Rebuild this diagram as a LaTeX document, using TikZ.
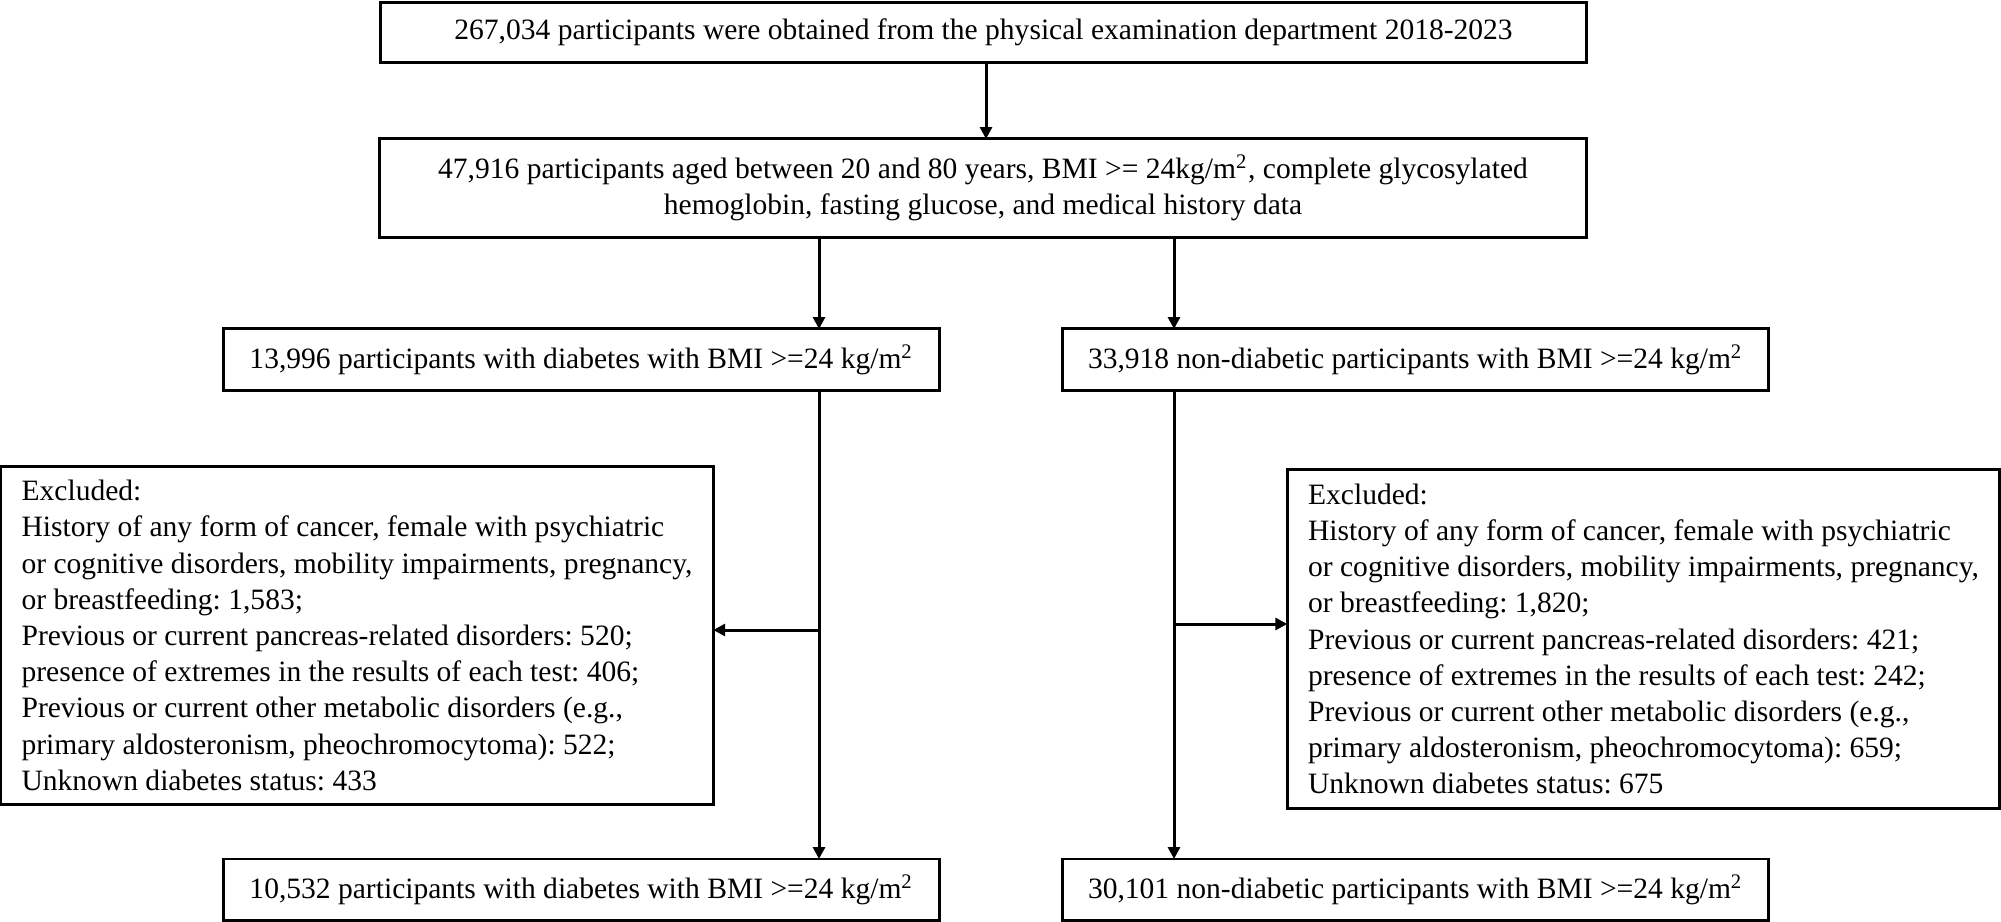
\documentclass[tikz,border=0pt]{standalone}
\usepackage{fontspec}
\setmainfont{Liberation Serif}
\usepackage{tikz}
\usetikzlibrary{arrows.meta}
\usetikzlibrary{positioning}
\frenchspacing

\begin{document}
\begin{tikzpicture}[x=0.01cm, y=-0.01cm,
  font=\fontsize{8.4pt}{10.3pt}\selectfont,
  stagebox/.style={draw, line width=0.85pt, inner sep=0pt, outer sep=0pt, align=center},
  exclbox/.style={draw, line width=0.85pt, inner sep=0pt, outer sep=0pt,
    align=left, minimum width=7.12cm, minimum height=3.38cm},
  flow/.style={line width=0.85pt, -{Triangle[length=3.4pt, width=3.4pt]}}]

  \useasboundingbox (0,0) rectangle (2001,921);

  % Nodes
  \node[stagebox, minimum width=12.05cm, minimum height=0.59cm] (all) at (983.5,32.5)
    {267,034 participants were obtained from the physical examination department 2018-2023};
  \node[stagebox, minimum width=12.06cm, minimum height=0.98cm] (adult) at (983,188)
    {47,916 participants aged between 20 and 80 years, BMI >= 24kg/m\textsuperscript{2}, complete glycosylated\\
     hemoglobin, fasting glucose, and medical history data};
  \node[stagebox, minimum width=7.15cm, minimum height=0.61cm] (diab) at (581.5,359.5)
    {13,996 participants with diabetes with BMI >=24 kg/m\textsuperscript{2}};
  \node[stagebox, minimum width=7.05cm, minimum height=0.61cm] (nondiab) at (1415.5,359.5)
    {33,918 non-diabetic participants with BMI >=24 kg/m\textsuperscript{2}};
  \node[exclbox] (exdiab) at (357,635.5)
    {Excluded:\\
     History of any form of cancer, female with psychiatric\\
     or cognitive disorders, mobility impairments, pregnancy,\\
     or breastfeeding: 1,583;\\
     Previous or current pancreas-related disorders: 520;\\
     presence of extremes in the results of each test: 406;\\
     Previous or current other metabolic disorders (e.g.,\\
     primary aldosteronism, pheochromocytoma): 522;\\
     Unknown diabetes status: 433};
  \node[exclbox] (exnondiab) at (1643.5,639)
    {Excluded:\\
     History of any form of cancer, female with psychiatric\\
     or cognitive disorders, mobility impairments, pregnancy,\\
     or breastfeeding: 1,820;\\
     Previous or current pancreas-related disorders: 421;\\
     presence of extremes in the results of each test: 242;\\
     Previous or current other metabolic disorders (e.g.,\\
     primary aldosteronism, pheochromocytoma): 659;\\
     Unknown diabetes status: 675};
  \node[stagebox, minimum width=7.15cm, minimum height=0.61cm] (diabfin) at (581.5,889.5)
    {10,532 participants with diabetes with BMI >=24 kg/m\textsuperscript{2}};
  \node[stagebox, minimum width=7.05cm, minimum height=0.61cm] (nondiabfin) at (1415.5,889.5)
    {30,101 non-diabetic participants with BMI >=24 kg/m\textsuperscript{2}};

  % Branch points
  \coordinate (colL) at (819,630);
  \coordinate (colR) at (1174,624);
  \coordinate (colM) at (986,0);

  % Edges
  \draw[flow] (all.south -| colM) -- (adult.north -| colM);
  \draw[flow] (adult.south -| colL) -- (diab.north -| colL);
  \draw[flow] (adult.south -| colR) -- (nondiab.north -| colR);
  \draw[flow] (diab.south -| colL) -- (diabfin.north -| colL);
  \draw[flow] (nondiab.south -| colR) -- (nondiabfin.north -| colR);
  \draw[flow] (colL) -- (colL -| exdiab.east);
  \draw[flow] (colR) -- (colR -| exnondiab.west);

\end{tikzpicture}
\end{document}
